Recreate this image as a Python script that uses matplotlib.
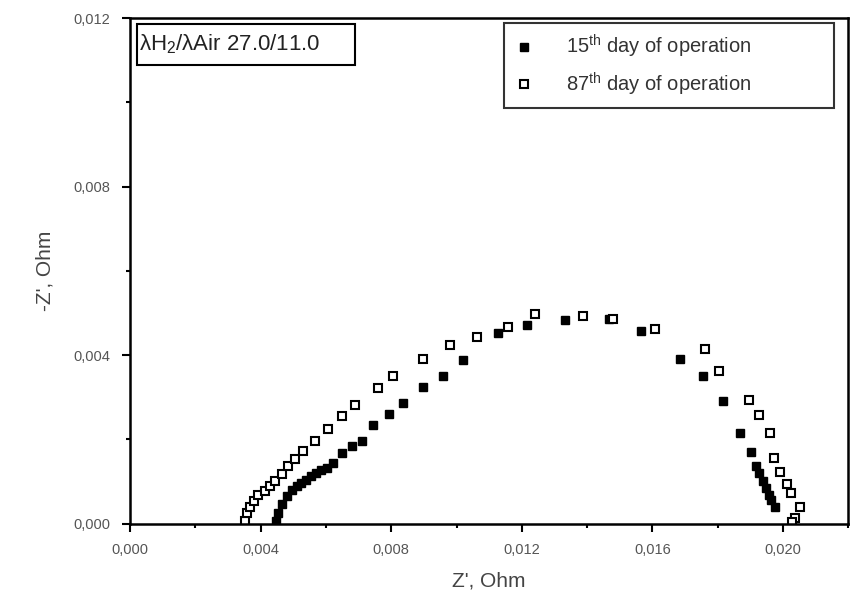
import matplotlib
matplotlib.use("Agg")
import matplotlib.pyplot as plt
from matplotlib.patches import Rectangle
from matplotlib.ticker import MultipleLocator, FuncFormatter

# ======== DADOS ========
# 15th day of operation (quadrados cheios)
z_re_15 = [0.004464, 0.004543, 0.004666, 0.004801, 0.004954, 0.005107, 0.005239, 0.005392,
           0.005545, 0.005698, 0.005843, 0.006026, 0.006229, 0.006504, 0.006792, 0.007117,
           0.007454, 0.007926, 0.008373, 0.008961, 0.009599, 0.010193, 0.011284, 0.012154,
           0.013336, 0.014684, 0.015647, 0.016860, 0.017546, 0.018177, 0.018689, 0.019016,
           0.019179, 0.019280, 0.019384, 0.019485, 0.019556, 0.019629, 0.019761]
z_im_15 = [0.000055, 0.000268, 0.000475, 0.000648, 0.000791, 0.000903, 0.000967, 0.001045,
           0.001123, 0.001204, 0.001266, 0.001323, 0.001442, 0.001679, 0.001853, 0.001955,
           0.002335, 0.002605, 0.002867, 0.003254, 0.003515, 0.003878, 0.004529, 0.004726,
           0.004828, 0.004862, 0.004567, 0.003912, 0.003498, 0.002905, 0.002154, 0.001693,
           0.001378, 0.001204, 0.001005, 0.000848, 0.000689, 0.000570, 0.000397]

# 87th day of operation (quadrados vazios)
z_re_87 = [0.003523, 0.003575, 0.003676, 0.003799, 0.003931, 0.004136, 0.004289, 0.004442,
           0.004648, 0.004850, 0.005055, 0.005309, 0.005668, 0.006057, 0.006486, 0.006903,
           0.007589, 0.008067, 0.008961, 0.009804, 0.010622, 0.011572, 0.012408, 0.013888,
           0.014788, 0.016084, 0.017626, 0.018045, 0.018964, 0.019271, 0.019608, 0.019730,
           0.019893, 0.020120, 0.020242, 0.020527, 0.020353, 0.020273]
z_im_87 = [0.000055, 0.000254, 0.000397, 0.000530, 0.000689, 0.000767, 0.000886, 0.001005,
           0.001188, 0.001361, 0.001537, 0.001717, 0.001955, 0.002256, 0.002548, 0.002826,
           0.003223, 0.003515, 0.003912, 0.004235, 0.004434, 0.004662, 0.004988, 0.004923,
           0.004862, 0.004631, 0.004149, 0.003634, 0.002945, 0.002572, 0.002154, 0.001568,
           0.001218, 0.000950, 0.000729, 0.000397, 0.000135, 0.000031]

legend_labels = ["15$^{\\mathrm{th}}$ day of operation", "87$^{\\mathrm{th}}$ day of operation"]
box_text = "λH$_2$/λAir 27.0/11.0"

# ======== FIGURA ========
plt.rcParams['font.family'] = ['Liberation Sans', 'DejaVu Sans']
plt.rcParams['mathtext.fontset'] = 'custom'
plt.rcParams['mathtext.rm'] = 'Liberation Sans'
fig = plt.figure(figsize=(8.5, 6), dpi=100)
ax = fig.add_axes([0.153, 0.127, 0.845, 0.843])

ax.plot(z_re_15, z_im_15, linestyle='none', marker='s', markersize=6,
        color='black', label=legend_labels[0])
ax.plot(z_re_87, z_im_87, linestyle='none', marker='s', markersize=6,
        markerfacecolor='white', markeredgecolor='black', markeredgewidth=1.5,
        label=legend_labels[1])

ax.set_xlim(0, 0.022)
ax.set_ylim(0, 0.012)

ax.xaxis.set_major_locator(MultipleLocator(0.004))
ax.xaxis.set_minor_locator(MultipleLocator(0.002))
ax.yaxis.set_major_locator(MultipleLocator(0.004))
ax.yaxis.set_minor_locator(MultipleLocator(0.002))

virgula = FuncFormatter(lambda v, pos: f"{v:.3f}".replace('.', ','))
ax.xaxis.set_major_formatter(virgula)
ax.yaxis.set_major_formatter(virgula)

ax.tick_params(which='major', direction='out', length=6, width=1.5,
               labelsize=10.5, labelcolor='#555555', pad=8)
ax.tick_params(which='minor', direction='out', length=3, width=1.5)
for s in ax.spines.values():
    s.set_linewidth(1.8)

ax.set_xlabel("Z', Ohm", fontsize=15, color='#444444', labelpad=10)
ax.set_ylabel("-Z', Ohm", fontsize=15, color='#444444', labelpad=14)

# legenda esticada até a largura da caixa original
leg = ax.legend(loc='upper left', bbox_to_anchor=(0.52, 0.99, 0.4605, 0.0),
                mode='expand', fontsize=14.5, frameon=True, fancybox=False,
                edgecolor='black', handletextpad=1.6, borderpad=0.5,
                borderaxespad=0, labelspacing=0.5, handlelength=1.0,
                markerscale=0.9)
leg.get_frame().set_linewidth(1.5)
for t in leg.get_texts():
    t.set_color('#333333')

# caixa de texto no canto superior esquerdo
ax.add_patch(Rectangle((0.0097, 0.907), 0.3037, 0.081, transform=ax.transAxes,
                       facecolor='white', edgecolor='black', linewidth=1.5, zorder=5))
ax.text(0.012, 0.948, box_text, transform=ax.transAxes, fontsize=16,
        va='center', ha='left', color='#222222', zorder=6)

fig.savefig('out.png', dpi=100)
